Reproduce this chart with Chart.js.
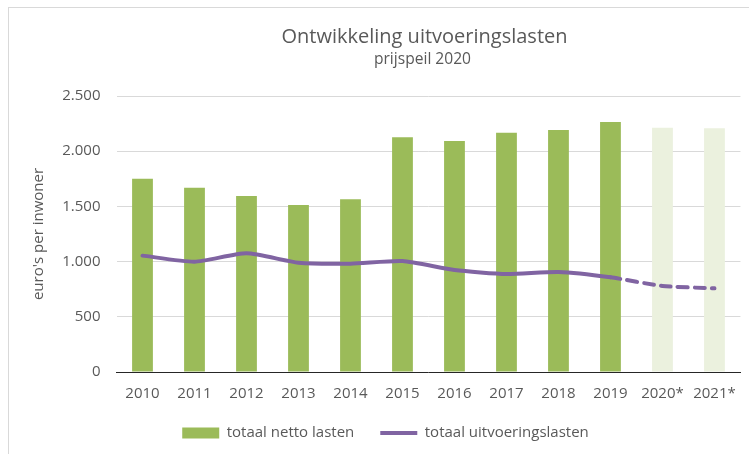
<!DOCTYPE html>
<html>
<head>
<meta charset="utf-8">
<script src="https://cdn.jsdelivr.net/npm/chart.js@4/dist/chart.umd.min.js"></script>
<style>
  html, body { margin: 0; padding: 0; background: #fff; overflow: hidden; }
  #wrap { position: relative; width: 749px; height: 454px; }
  #frame { position: absolute; left: 8px; top: 7px; width: 760px; height: 470px; border: 1px solid #d9d9d9; box-sizing: border-box; }
  canvas { position: absolute; left: 0; top: 0; }
</style>
</head>
<body>
<div id="wrap">
  <div id="frame"></div>
  <canvas id="grafiek" width="749" height="454"></canvas>
</div>
<script>
// jaren en waarden (euro's per inwoner, prijspeil 2020)
const jaren = ["2010", "2011", "2012", "2013", "2014", "2015", "2016", "2017", "2018", "2019", "2020*", "2021*"];
const nettoLasten = [1751, 1669, 1594, 1513, 1564, 2126, 2092, 2168, 2192, 2264, 2213, 2207];
const uitvoeringsLasten = [1054, 999, 1075, 990, 981, 1005, 924, 888, 906, 858, 779, 758];
const yTicks = [0, 500, 1000, 1500, 2000, 2500];

const FONT = "'Open Sans', sans-serif";
const GRIJS = "#595959";

// ramingen (met *) lichter
const barKleuren = jaren.map(j => j.includes("*") ? "#EBF1DE" : "#9BBB59");

function formatEuro(v) {
    return v.toLocaleString("de-DE");
}

// titel + subtitel boven het plotgebied
const titelPlugin = {
    id: "titel",
    afterDraw(chart) {
        const ctx = chart.ctx;
        const area = chart.chartArea;
        const cx = (area.left + area.right) / 2;
        ctx.save();
        ctx.fillStyle = GRIJS;
        ctx.textAlign = "center";
        ctx.textBaseline = "alphabetic";
        ctx.font = "20px " + FONT;
        ctx.fillText("Ontwikkeling uitvoeringslasten", cx - 4, 43);
        ctx.font = "15.6px " + FONT;
        ctx.fillText("prijspeil 2020", cx - 6, 64);
        ctx.restore();
    }
};

new Chart(document.getElementById("grafiek"), {
    data: {
        labels: jaren,
        datasets: [
            {
                type: "line",
                label: "totaal uitvoeringslasten",
                data: uitvoeringsLasten,
                borderColor: "#8064A2",
                backgroundColor: "#8064A2",
                borderWidth: 4,
                pointRadius: 0,
                tension: 0.2,
                borderCapStyle: "round",
                borderJoinStyle: "round",
                pointStyle: "line",
                order: 1,
                segment: {
                    borderDash: c => c.p0DataIndex >= 9 ? [10, 7] : undefined
                }
            },
            {
                type: "bar",
                label: "totaal netto lasten",
                data: nettoLasten,
                backgroundColor: barKleuren,
                barPercentage: 0.4,
                categoryPercentage: 1,
                pointStyle: "rect",
                order: 2
            }
        ]
    },
    options: {
        responsive: false,
        animation: false,
        layout: { padding: { top: 96, right: 6, left: 28, bottom: 3.5 } },
        plugins: {
            title: { display: false },
            tooltip: { enabled: false },
            legend: {
                position: "bottom",
                reverse: true,
                labels: {
                    usePointStyle: true,
                    pointStyleWidth: 37,
                    boxHeight: 11,
                    padding: 26,
                    color: GRIJS,
                    font: { family: FONT, size: 15 },
                    generateLabels(chart) {
                        const items = Chart.defaults.plugins.legend.labels.generateLabels(chart);
                        items.forEach(it => {
                            if (it.pointStyle === "rect") { it.fillStyle = "#9BBB59"; it.strokeStyle = "#9BBB59"; it.lineWidth = 0; }
                        });
                        return items;
                    }
                }
            }
        },
        scales: {
            x: {
                grid: { display: false, drawTicks: false },
                border: { display: true, color: "#262626", width: 1 },
                ticks: { color: GRIJS, font: { family: FONT, size: 15 }, padding: 13, maxRotation: 0 },
                afterFit(scale) { scale.height = 27.5; }
            },
            y: {
                min: 0,
                max: 2500,
                afterBuildTicks(axis) { axis.ticks = yTicks.map(v => ({ value: v })); },
                grid: { color: "#d9d9d9", lineWidth: 1, drawTicks: false },
                border: { display: false },
                ticks: { color: GRIJS, font: { family: FONT, size: 15 }, padding: 16, callback: v => formatEuro(v) },
                title: { display: true, text: "euro's per inwoner", color: GRIJS, font: { family: FONT, size: 15 }, padding: 2 },
                afterFit(scale) { scale.width = 88.5; }
            }
        }
    },
    plugins: [titelPlugin]
});
</script>
</body>
</html>
